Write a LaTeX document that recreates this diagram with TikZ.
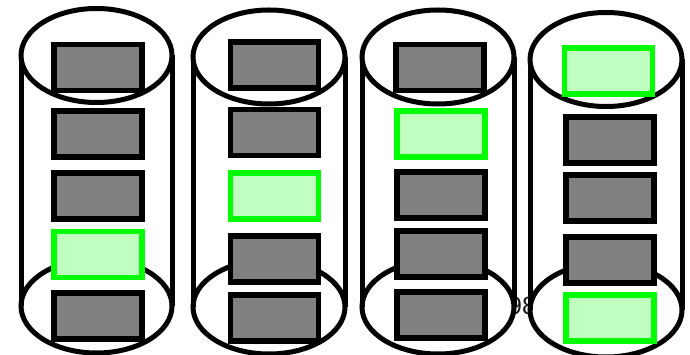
\documentclass[tikz,border=0pt]{standalone}
\usepackage{fontspec}
\setmainfont{Liberation Sans}
\definecolor{blockgray}{RGB}{128,128,128}
\definecolor{markgreen}{RGB}{0,255,0}
\definecolor{markfill}{RGB}{192,255,192}
\usetikzlibrary{positioning}
\tikzset{
    blockbox/.style={draw=black, line width=5.5pt, fill=blockgray, inner sep=0pt, minimum width=88pt, minimum height=46pt},
    markbox/.style={draw=markgreen, line width=5.5pt, fill=markfill, inner sep=0pt, minimum width=88pt, minimum height=46pt},
    rim/.style={draw=black, line width=5pt, fill=white},
    wall/.style={draw=black, line width=5pt}
}

\begin{document}
\begin{tikzpicture}[x=1pt, y=-1pt]
    \useasboundingbox (0,0) rectangle (690,355);
    \node[text=black!90, font=\fontsize{25}{25}\selectfont] (pagenum) at (522,306) {98};

    % drum 1
    \fill[white] (21,55.5) rectangle (172,306);
    \draw[rim] (96.5,306) ellipse [x radius=75.5pt, y radius=47pt];
    \draw[wall] (21,55.5) -- (21,306) (172,55.5) -- (172,306);
    \draw[rim] (96.5,55.5) ellipse [x radius=75.5pt, y radius=47pt];
    \node[blockbox] (d1a) at (98,67.5) {};
    \node[blockbox] (d1b) at (98,134) {};
    \node[blockbox] (d1c) at (98,196) {};
    \node[markbox] (d1d) at (98,254.5) {};
    \node[blockbox] (d1e) at (98,316) {};

    % drum 2
    \fill[white] (193,57) rectangle (345,307);
    \draw[rim] (269,307) ellipse [x radius=76pt, y radius=47pt];
    \draw[wall] (193,57) -- (193,307) (345,57) -- (345,307);
    \draw[rim] (269,57) ellipse [x radius=76pt, y radius=47pt];
    \node[blockbox] (d2a) at (274.5,65) {};
    \node[blockbox] (d2b) at (274.5,132.5) {};
    \node[markbox] (d2c) at (274.5,196) {};
    \node[blockbox] (d2d) at (274.5,259) {};
    \node[blockbox] (d2e) at (274.5,318) {};

    % drum 3
    \fill[white] (362,57) rectangle (514,307);
    \draw[rim] (438,307) ellipse [x radius=76pt, y radius=47pt];
    \draw[wall] (362,57) -- (362,307) (514,57) -- (514,307);
    \draw[rim] (438,57) ellipse [x radius=76pt, y radius=47pt];
    \node[blockbox] (d3a) at (440,67.5) {};
    \node[markbox] (d3b) at (441,134) {};
    \node[blockbox] (d3c) at (441,195) {};
    \node[blockbox] (d3d) at (441,254) {};
    \node[blockbox] (d3e) at (441,315) {};

    % drum 4
    \fill[white] (530,59.5) rectangle (682,310);
    \draw[rim] (606,310) ellipse [x radius=76pt, y radius=47pt];
    \draw[wall] (530,59.5) -- (530,310) (682,59.5) -- (682,310);
    \draw[rim] (606,59.5) ellipse [x radius=76pt, y radius=47pt];
    \node[markbox] (d4a) at (608.5,71) {};
    \node[blockbox] (d4b) at (610,140) {};
    \node[blockbox] (d4c) at (610,198) {};
    \node[blockbox] (d4d) at (610,260) {};
    \node[markbox] (d4e) at (610,318) {};
\end{tikzpicture}
\end{document}
